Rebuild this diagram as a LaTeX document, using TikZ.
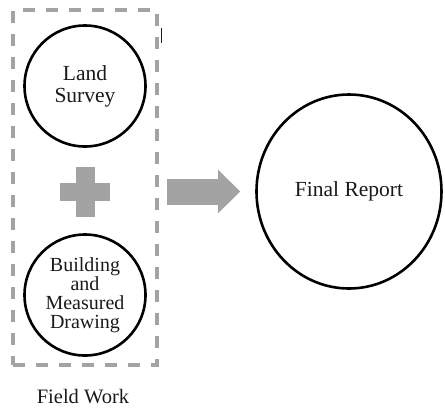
\documentclass[tikz,border=0pt]{standalone}
\usepackage{fontspec}
\setmainfont{Liberation Serif}
\usetikzlibrary{shapes.geometric,arrows.meta}
\definecolor{shapegray}{HTML}{A3A3A3}
\definecolor{textgray}{HTML}{1A1A1A}
\tikzset{
  workcircle/.style={draw=black, line width=2.6pt, circle, inner sep=0pt,
    minimum size=121pt, align=center, text=textgray},
  fieldbox/.style={draw=shapegray, line width=3.5pt, dash pattern=on 12pt off 11pt,
    inner sep=0pt},
  plusbar/.style={fill=shapegray, inner sep=0pt},
  bigarrow/.style={draw=shapegray, line width=26pt,
    -{Triangle[length=22pt, width=42pt]}},
}
\begin{document}
\begin{tikzpicture}[x=1pt, y=-1pt]
    \useasboundingbox (0,0) rectangle (445,408);
    \node[fieldbox, minimum width=144pt, minimum height=355pt] (field) at (85,187.5) {};
    \node[workcircle, font=\fontsize{21.5}{22}\selectfont] (survey) at (85,86) {Land\\Survey};
    \node[plusbar, minimum width=50pt, minimum height=18pt] (plush) at (85,192) {};
    \node[plusbar, minimum width=19pt, minimum height=50pt] (plusv) at (85,192) {};
    \node[workcircle, font=\fontsize{20}{19}\selectfont] (drawing) at (85,295) {Building\\and\\Measured\\Drawing};
    \node[draw=black, line width=2.6pt, ellipse, inner sep=0pt, minimum width=185pt,
      minimum height=194pt, text=textgray, font=\fontsize{21.5}{22}\selectfont] (report) at (349,191.5) {Final Report};
    \node[text=textgray, font=\fontsize{20.5}{22}\selectfont] (fieldlabel) at (83,397) {Field Work};
    \path (report.west -| field.east) edge [bigarrow, shorten <=8pt, shorten >=15pt] (report.west);
    \draw[textgray, line width=0.8pt] (161,28) -- (161,43);
  \end{tikzpicture}
\end{document}
